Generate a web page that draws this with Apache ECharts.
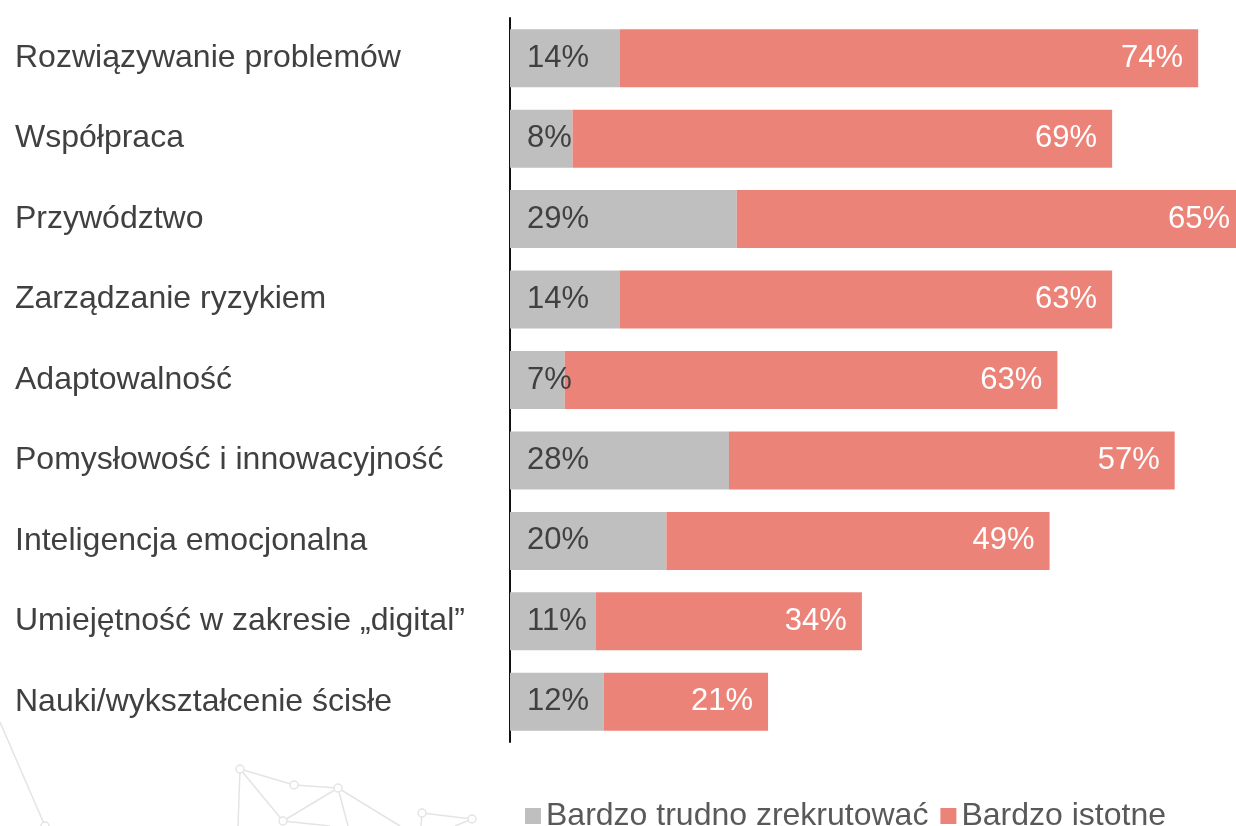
<!DOCTYPE html>
<html>
<head>
<meta charset="utf-8">
<script src="https://cdn.jsdelivr.net/npm/echarts@6/dist/echarts.min.js"></script>
<style>
  html, body { margin: 0; padding: 0; background: #fff; }
  #chart { width: 1236px; height: 826px; }
</style>
</head>
<body>
<div id="chart"></div>
<script>
// kategorie (oś Y)
const categories = [
  'Rozwiązywanie problemów',
  'Współpraca',
  'Przywództwo',
  'Zarządzanie ryzykiem',
  'Adaptowalność',
  'Pomysłowość i innowacyjność',
  'Inteligencja emocjonalna',
  'Umiejętność w zakresie „digital”',
  'Nauki/wykształcenie ścisłe'
]
// wartości serii (%)
const hardToRecruit = [14, 8, 29, 14, 7, 28, 20, 11, 12]
const veryImportant = [74, 69, 65, 63, 63, 57, 49, 34, 21]
const seriesNames = ['Bardzo trudno zrekrutować', 'Bardzo istotne']

const FONT = 'Liberation Sans, Arial, sans-serif'

// dekoracyjna siatka w lewym dolnym rogu
const lineColor = '#e4e4e4'
function seg(x1, y1, x2, y2) {
  return { type: 'line', shape: { x1, y1, x2, y2 }, style: { stroke: lineColor, lineWidth: 1.5 }, silent: true }
}
function node(cx, cy) {
  return { type: 'circle', shape: { cx, cy, r: 4 }, style: { fill: '#fff', stroke: lineColor, lineWidth: 1.5 }, silent: true, z: 2 }
}
const deco = [
  seg(0, 722, 45, 826),
  seg(240, 769, 294, 785), seg(294, 785, 338, 788),
  seg(240, 769, 283, 821), seg(338, 788, 283, 821),
  seg(240, 769, 238, 826), seg(338, 788, 348, 826),
  seg(338, 788, 400, 826), seg(283, 821, 330, 826),
  seg(422, 813, 472, 819), seg(422, 813, 421, 826), seg(472, 819, 455, 826),
  node(240, 769), node(294, 785), node(338, 788), node(283, 821),
  node(422, 813), node(472, 819), node(45, 826)
]

const chart = echarts.init(document.getElementById('chart'))

const option = {
  backgroundColor: '#fff',
  animation: false,
  textStyle: { fontFamily: FONT },
  graphic: { elements: deco },
  legend: {
    data: seriesNames,
    left: 520,
    top: 795,
    icon: 'rect',
    itemWidth: 16,
    itemHeight: 16,
    itemGap: 12,
    textStyle: { color: '#595959', fontSize: 32, fontFamily: FONT }
  },
  grid: {
    left: 510,
    top: 18,
    width: 782,
    height: 724,
    outerBoundsMode: 'none',
    containLabel: false
  },
  xAxis: {
    type: 'value',
    min: 0,
    max: 100,
    show: false
  },
  yAxis: {
    type: 'category',
    data: categories,
    inverse: true,
    axisLine: { lineStyle: { color: '#111', width: 2 } },
    axisTick: { show: false },
    axisLabel: {
      align: 'left',
      margin: 495,
      color: '#404040',
      fontSize: 32,
      fontFamily: FONT,
      padding: [4, 0, 0, 0]
    }
  },
  series: [
    {
      name: seriesNames[0],
      type: 'bar',
      stack: 'total',
      barWidth: 58,
      data: hardToRecruit,
      itemStyle: { color: '#bfbfbf' },
      label: {
        show: true,
        position: 'insideLeft',
        distance: 17,
        formatter: '{c}%',
        color: '#404040',
        fontSize: 31,
        fontFamily: FONT,
        padding: [4, 0, 0, 0]
      }
    },
    {
      name: seriesNames[1],
      type: 'bar',
      stack: 'total',
      barWidth: 58,
      data: veryImportant,
      itemStyle: { color: '#ec8379' },
      label: {
        show: true,
        position: 'insideRight',
        distance: 15,
        formatter: '{c}%',
        color: '#ffffff',
        fontSize: 31,
        fontFamily: FONT,
        padding: [4, 0, 0, 0]
      }
    }
  ]
}

chart.setOption(option)
</script>
</body>
</html>
